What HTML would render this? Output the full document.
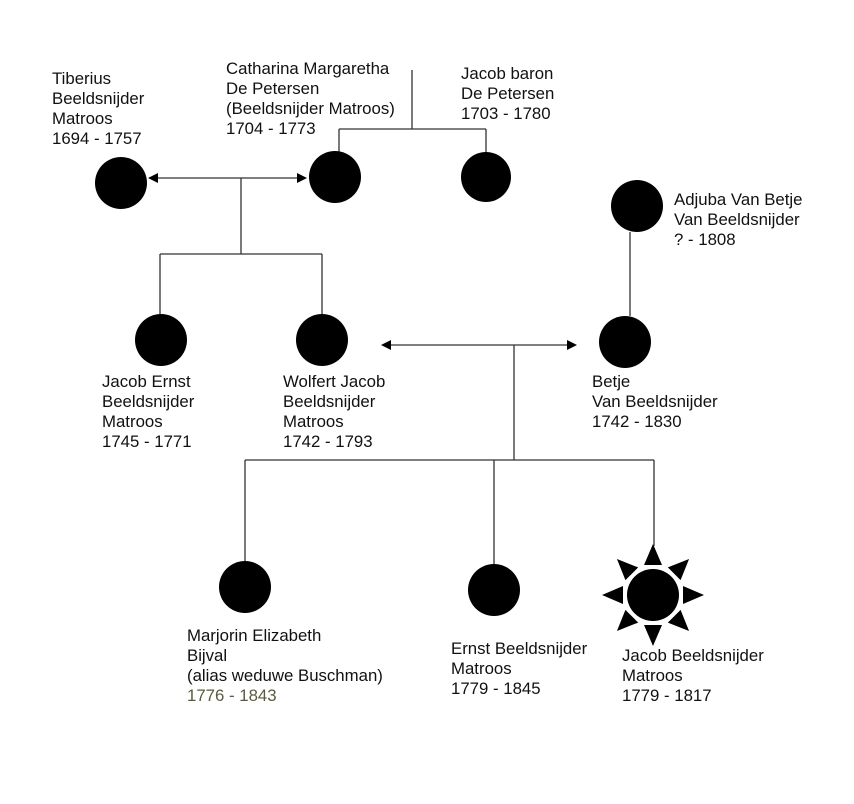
<!DOCTYPE html>
<html><head><meta charset="utf-8"><style>
html,body{margin:0;padding:0;background:#fff;}
.wrap{position:relative;width:854px;height:804px;overflow:hidden;font-family:"Liberation Sans",Arial,sans-serif;font-size:16.8px;line-height:20px;color:#111;}
.t{position:absolute;white-space:nowrap;}
svg{position:absolute;left:0;top:0;}
</style></head><body><div class="wrap">
<svg width="854" height="804" viewBox="0 0 854 804">
<g stroke="#333" stroke-width="1.3" fill="none">
<path d="M412 70V129M339 129H486M339 129V152M486 129V152"/>
<path d="M156 178H298M241 178V254M160 254H322M160 254V314M322 254V314"/>
<path d="M630 232V316"/>
<path d="M391 345H567M514 345V460M245 460H654M245 460V561M494 460V564M654 460V546"/>
</g>
<g fill="#000">
<polygon points="148,178 158,173 158,183"/>
<polygon points="307,178 297,173 297,183"/>
<polygon points="381,345 391,340 391,350"/>
<polygon points="577,345 567,340 567,350"/>
<circle cx="121" cy="183" r="26"/>
<circle cx="335" cy="177" r="26"/>
<circle cx="486" cy="177" r="25"/>
<circle cx="637" cy="206" r="26"/>
<circle cx="161" cy="340" r="26"/>
<circle cx="322" cy="340" r="26"/>
<circle cx="625" cy="342" r="26"/>
<circle cx="245" cy="587" r="26"/>
<circle cx="494" cy="590" r="26"/>
<g transform="translate(653,595)">
<circle r="26"/>
<g id="r4">
<polygon points="-9,-30 9,-30 0,-51"/>
<polygon points="-9,30 9,30 0,51"/>
<polygon points="-30,-9 -30,9 -51,0"/>
<polygon points="30,-9 30,9 51,0"/>
</g>
<g transform="rotate(45)">
<polygon points="-9,-30 9,-30 0,-51"/>
<polygon points="-9,30 9,30 0,51"/>
<polygon points="-30,-9 -30,9 -51,0"/>
<polygon points="30,-9 30,9 51,0"/>
</g>
</g>
</g>
</svg>
<div class="t" style="left:52px;top:69px">Tiberius<br>Beeldsnijder<br>Matroos<br>1694 - 1757</div>
<div class="t" style="left:226px;top:59px">Catharina Margaretha<br>De Petersen<br>(Beeldsnijder Matroos)<br>1704 - 1773</div>
<div class="t" style="left:461px;top:64px">Jacob baron<br>De Petersen<br>1703 - 1780</div>
<div class="t" style="left:674px;top:190px">Adjuba Van Betje<br>Van Beeldsnijder<br>? - 1808</div>
<div class="t" style="left:102px;top:372px">Jacob Ernst<br>Beeldsnijder<br>Matroos<br>1745 - 1771</div>
<div class="t" style="left:283px;top:372px">Wolfert Jacob<br>Beeldsnijder<br>Matroos<br>1742 - 1793</div>
<div class="t" style="left:592px;top:372px">Betje<br>Van Beeldsnijder<br>1742 - 1830</div>
<div class="t" style="left:187px;top:626px">Marjorin Elizabeth<br>Bijval<br>(alias weduwe Buschman)<br><span style="color:#5a5a3c">1776 - 1843</span></div>
<div class="t" style="left:451px;top:639px">Ernst Beeldsnijder<br>Matroos<br>1779 - 1845</div>
<div class="t" style="left:622px;top:646px">Jacob Beeldsnijder<br>Matroos<br>1779 - 1817</div>
</div></body></html>
